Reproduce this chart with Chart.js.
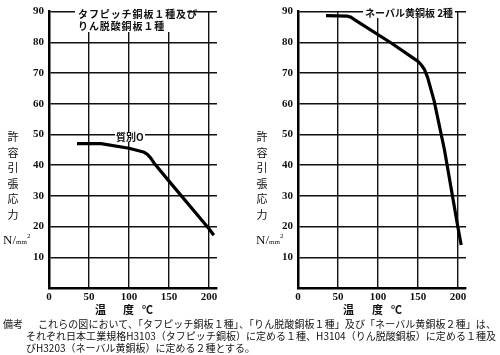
<!DOCTYPE html>
<html><head><meta charset="utf-8">
<script src="https://cdn.jsdelivr.net/npm/chart.js@4.4.1/dist/chart.umd.min.js"></script>
<style>
html,body{margin:0;padding:0;background:#fff;}
body{width:500px;height:355px;position:relative;overflow:hidden;font-family:"Noto Sans CJK JP",sans-serif;color:#111;}
.box{position:absolute;}
.t{position:absolute;white-space:nowrap;line-height:1;}
.bg{background:#fff;}
.vt{position:absolute;width:16px;text-align:center;font-size:11px;line-height:15.5px;}
.unit{position:absolute;font-family:"Liberation Serif",serif;font-size:13px;white-space:nowrap;}
.unit small{font-size:7px;}
.unit sup{font-size:7px;vertical-align:6px;}
.xt{position:absolute;font-size:11px;font-weight:bold;white-space:nowrap;line-height:1;}
.fn{position:absolute;font-size:10px;white-space:nowrap;line-height:1;}
</style></head>
<body>
<div class="box" style="left:0;top:0;width:230px;height:305px;"><canvas id="c1"></canvas></div>
<div class="box" style="left:249px;top:0;width:230px;height:305px;"><canvas id="c2"></canvas></div>

<div class="t bg" style="left:75px;top:7px;width:112px;height:25px;"></div>
<div class="t" style="left:78px;top:9px;font-size:10px;font-weight:bold;letter-spacing:0.9px;">タフピッチ銅板１種及び</div>
<div class="t" style="left:78px;top:21px;font-size:10px;font-weight:bold;letter-spacing:0.9px;">りん脱酸銅板１種</div>
<div class="t bg" style="left:115px;top:132px;padding:0 1px;font-size:10px;font-weight:bold;">質別O</div>

<div class="t bg" style="left:363px;top:8px;padding:0 2px;font-size:10px;font-weight:bold;">ネーバル黄銅板 2種</div>

<div class="vt" style="left:5px;top:129px;">許<br>容<br>引<br>張<br>応<br>力</div>
<div class="unit" style="left:3px;top:232px;">N/<small>mm</small><sup>2</sup></div>
<div class="vt" style="left:254px;top:129px;">許<br>容<br>引<br>張<br>応<br>力</div>
<div class="unit" style="left:256px;top:232px;">N/<small>mm</small><sup>2</sup></div>

<div class="xt" style="left:95px;top:304px;">温</div>
<div class="xt" style="left:123px;top:304px;">度</div>
<div class="xt" style="left:142px;top:304px;">℃</div>
<div class="xt" style="left:343px;top:304px;">温</div>
<div class="xt" style="left:372px;top:304px;">度</div>
<div class="xt" style="left:391px;top:304px;">℃</div>

<div class="fn" style="left:3px;top:319px;">備考</div>
<div class="fn" data-w="458" style="left:38px;top:319px;">これらの図において、「タフピッチ銅板１種」、「りん脱酸銅板１種」及び「ネーバル黄銅板２種」は、</div>
<div class="fn" data-w="470" style="left:26px;top:331px;">それぞれ日本工業規格H3103（タフピッチ銅板）に定める１種、H3104（りん脱酸銅板）に定める１種及</div>
<div class="fn" style="left:26px;top:343px;">びH3203（ネーバル黄銅板）に定める２種とする。</div>

<script>
// ---- data ----
const leftTemps  = [35, 65, 100, 118, 123, 127, 131, 150, 200, 206];
const leftStress = [47, 47, 45.5, 44.3, 43.5, 42.4, 40.8, 34.8, 19.3, 17.2];
const rightTemps  = [35, 62, 66, 70, 117, 150, 154, 158, 162, 170, 183, 200, 204];
const rightStress = [88.7, 88.5, 88.2, 87.5, 79.7, 73.8, 72.7, 71.2, 68.6, 61.1, 45.1, 19.6, 14];
const xTickValues = [0, 50, 100, 150, 200];
const yTickValues = [10, 20, 30, 40, 50, 60, 70, 80, 90];

function pts(xs, ys){ return xs.map((x,i)=>({x:x, y:ys[i]})); }

function makeChart(id, xs, ys){
  new Chart(document.getElementById(id), {
    type: 'line',
    data: { datasets: [{
      data: pts(xs, ys),
      borderColor: '#000', borderWidth: 3.2, pointRadius: 0,
      tension: 0, borderJoinStyle: 'round', borderCapStyle: 'butt', fill: false
    }]},
    options: {
      animation: false, responsive: true, maintainAspectRatio: false,
      devicePixelRatio: 1,
      layout: { padding: { top: 5, right: 13, left: 0, bottom: 0 } },
      plugins: { legend: { display: false }, tooltip: { enabled: false } },
      scales: {
        x: {
          type: 'linear', min: 0, max: 210,
          afterBuildTicks: s => { s.ticks = xTickValues.map(v => ({value: v})); },
          afterFit: s => { s.height = 17; },
          grid: { color: '#111', lineWidth: 1.4, drawTicks: false },
          border: { color: '#000', width: 2.5 },
          ticks: { padding: 3, color: '#111', font: { family: 'Liberation Serif', size: 11, weight: 'bold' }, maxRotation: 0 }
        },
        y: {
          type: 'linear', min: 0, max: 90,
          afterBuildTicks: s => { s.ticks = [0].concat(yTickValues).map(v => ({value: v})); },
          afterFit: s => { s.width = 49; },
          grid: { color: '#111', lineWidth: 1.4, drawTicks: false },
          border: { color: '#000', width: 2.5 },
          ticks: { padding: 5, color: '#111', font: { family: 'Liberation Serif', size: 11, weight: 'bold' },
                   callback: v => v === 0 ? '' : String(v) }
        }
      }
    }
  });
}
makeChart('c1', leftTemps, leftStress);
makeChart('c2', rightTemps, rightStress);

document.querySelectorAll('.fn[data-w]').forEach(el => {
  const target = +el.dataset.w;
  const n = el.textContent.length;
  const w = el.getBoundingClientRect().width;
  el.style.letterSpacing = ((target - w) / n) + 'px';
});
</script>
</body></html>
